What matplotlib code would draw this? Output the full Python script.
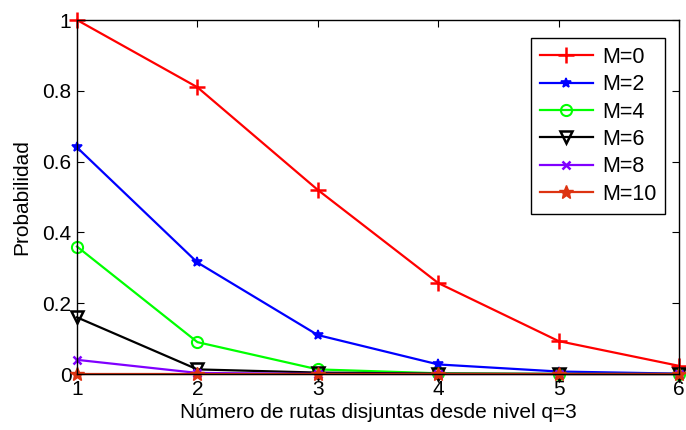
import matplotlib
matplotlib.use("Agg")
import matplotlib.pyplot as plt
from matplotlib.ticker import FuncFormatter

plt.rcParams['font.family'] = ['Liberation Sans', 'DejaVu Sans']

x = [1, 2, 3, 4, 5, 6]
m0 = [1.0, 0.81, 0.52, 0.257, 0.093, 0.023]
m2 = [0.64, 0.315, 0.11, 0.027, 0.007, 0.001]
m4 = [0.36, 0.09, 0.013, 0.002, 0.0003, 0.0]
m6 = [0.16, 0.013, 0.004, 0.001, 0.0, 0.0]
m8 = [0.04, 0.003, 0.0003, 0.0, 0.0, 0.0]
m10 = [0.0, 0.0, 0.0, 0.0, 0.0, 0.0]
labels = ["M=0", "M=2", "M=4", "M=6", "M=8", "M=10"]
xlabel = "Número de rutas disjuntas desde nivel q=3"
ylabel = "Probabilidad"

fig = plt.figure(figsize=(6.86, 4.30), dpi=100)
ax = fig.add_axes([77/686, 1-374/430, (679-77)/686, (374-20)/430])

styles = [
    dict(color='#ff0000', marker='+', ms=11, mew=1.8, mfc='none'),
    dict(color='#0000ff', marker='*', ms=7, mew=1.2),
    dict(color='#00ff00', marker='o', ms=8, mew=1.5, mfc='none'),
    dict(color='#000000', marker='v', ms=9, mew=1.8, mfc='none'),
    dict(color='#8000ff', marker='x', ms=6, mew=1.8),
    dict(color='#dd3311', marker='*', ms=10, mew=1.0),
]
for ys, lab, st in zip([m0, m2, m4, m6, m8, m10], labels, styles):
    ax.plot(x, ys, lw=1.6, label=lab, clip_on=False, **st)

ax.set_xlim(1, 6)
ax.set_ylim(0, 1)
ax.set_xticks(x)
ax.set_yticks([0, 0.2, 0.4, 0.6, 0.8, 1.0])
ax.yaxis.set_major_formatter(FuncFormatter(lambda v, p: "%g" % v))
ax.tick_params(direction='in', top=True, right=True, labelsize=15, length=5, pad=4)
for s in ax.spines.values():
    s.set_linewidth(1.0)
ax.set_xlabel(xlabel, fontsize=15, labelpad=3)
ax.set_ylabel(ylabel, fontsize=15, labelpad=8)

leg = ax.legend(loc='upper right', bbox_to_anchor=(665/686, 1-38/430), bbox_transform=fig.transFigure,
                fontsize=15.5, fancybox=False, framealpha=1, edgecolor='black', borderaxespad=0,
                handlelength=2.5, labelspacing=0.3, borderpad=0.4, handletextpad=0.4)
leg.get_frame().set_linewidth(1.0)

fig.savefig("out.png", dpi=100)
